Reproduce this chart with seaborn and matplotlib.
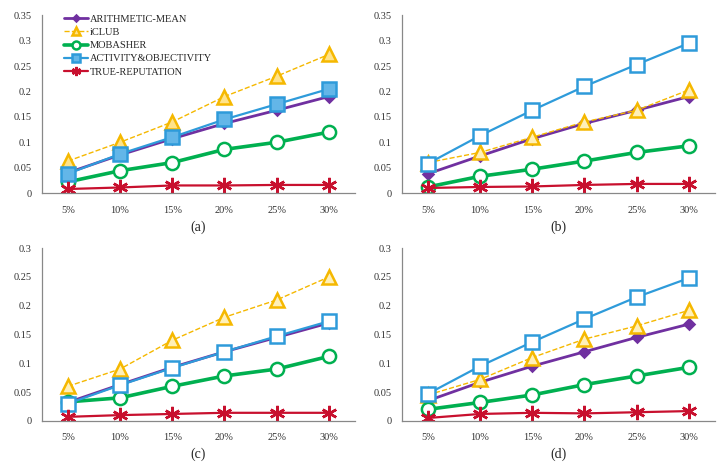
import matplotlib
matplotlib.use('Agg')
import matplotlib.pyplot as plt
import numpy as np
import seaborn as sns

sns.set_style('white')
plt.rcParams['font.family'] = ['Liberation Serif', 'DejaVu Serif']

# data
pct = ['5%', '10%', '15%', '20%', '25%', '30%']
methods = ['ARITHMETIC-MEAN', 'iCLUB', 'MOBASHER', 'ACTIVITY&OBJECTIVITY', 'TRUE-REPUTATION']

a_mean = [0.040, 0.075, 0.107, 0.137, 0.163, 0.190]
a_iclub = [0.063, 0.100, 0.140, 0.190, 0.230, 0.273]
a_mob = [0.022, 0.044, 0.060, 0.086, 0.100, 0.120]
a_ao = [0.038, 0.077, 0.110, 0.145, 0.175, 0.205]
a_true = [0.008, 0.011, 0.015, 0.015, 0.016, 0.016]

b_mean = [0.038, 0.073, 0.107, 0.137, 0.163, 0.190]
b_iclub = [0.060, 0.080, 0.110, 0.140, 0.163, 0.203]
b_mob = [0.012, 0.033, 0.047, 0.063, 0.080, 0.093]
b_ao = [0.058, 0.113, 0.163, 0.210, 0.253, 0.295]
b_true = [0.010, 0.012, 0.013, 0.016, 0.018, 0.018]

c_mean = [0.032, 0.063, 0.093, 0.120, 0.145, 0.170]
c_iclub = [0.060, 0.090, 0.140, 0.180, 0.210, 0.250]
c_mob = [0.033, 0.040, 0.060, 0.078, 0.090, 0.112]
c_ao = [0.030, 0.062, 0.092, 0.120, 0.147, 0.173]
c_true = [0.007, 0.010, 0.012, 0.014, 0.014, 0.014]

d_mean = [0.035, 0.067, 0.095, 0.120, 0.145, 0.168]
d_iclub = [0.045, 0.072, 0.110, 0.142, 0.165, 0.192]
d_mob = [0.020, 0.032, 0.045, 0.063, 0.078, 0.093]
d_ao = [0.047, 0.095, 0.137, 0.177, 0.215, 0.248]
d_true = [0.005, 0.012, 0.014, 0.013, 0.015, 0.017]

panels = [
    ('(a)', [a_mean, a_iclub, a_mob, a_ao, a_true], 0.35, True),
    ('(b)', [b_mean, b_iclub, b_mob, b_ao, b_true], 0.35, False),
    ('(c)', [c_mean, c_iclub, c_mob, c_ao, c_true], 0.30, False),
    ('(d)', [d_mean, d_iclub, d_mob, d_ao, d_true], 0.30, False),
]

colors = ['#7030A0', '#F5B800', '#00B050', '#2E9BDA', '#C8102E']
markers = ['D', '^', 'o', 's', (6, 2, 0)]
msizes = [5, 10, 9.5, 9.5, 11]
lws = [2.0, 1.0, 2.6, 1.6, 1.6]
lstyles = ['-', '--', '-', '-', '-']
fill_a = ['#7030A0', '#FFE38A', 'white', '#63B6E8', '#C8102E']
fill_other = ['#7030A0', '#FFF0B8', 'white', 'white', '#C8102E']

fig = plt.figure(figsize=(7.2, 4.63), dpi=100)
boxes = [
    [0.058, 0.583, 0.435, 0.384],
    [0.558, 0.583, 0.435, 0.384],
    [0.058, 0.091, 0.435, 0.373],
    [0.558, 0.091, 0.435, 0.373],
]

for (cap, series, ytop, filled), box in zip(panels, boxes):
    ax = fig.add_axes(box)
    faces = fill_a if filled else fill_other
    for i, vals in enumerate(series):
        sns.lineplot(x=pct, y=vals, ax=ax, color=colors[i], marker=markers[i],
                     markersize=msizes[i], linewidth=lws[i], linestyle=lstyles[i],
                     markerfacecolor=faces[i], markeredgecolor=colors[i],
                     markeredgewidth=1.8, label=methods[i] if filled else None,
                     legend=False)
    ax.set_xlim(-0.5, 5.5)
    ax.set_ylim(0, ytop)
    yt = np.arange(0, ytop + 0.001, 0.05)
    ax.set_yticks(yt)
    ax.set_yticklabels(['0' if v == 0 else f'{v:g}' for v in yt])
    ax.set_xticks(range(len(pct)))
    ax.set_xticklabels(pct)
    ax.set_xticks(np.arange(-0.5, 6, 1), minor=True)
    ax.tick_params(axis='x', which='major', length=0, labelsize=7.5, pad=9, colors='#333333')
    ax.tick_params(axis='x', which='minor', length=4, color='#888888', direction='out')
    ax.tick_params(axis='y', length=4, direction='out', labelsize=7.5, colors='#333333')
    ax.tick_params(axis='y', color='#888888')
    for s in ['top', 'right']:
        ax.spines[s].set_visible(False)
    for s in ['left', 'bottom']:
        ax.spines[s].set_color('#888888')
        ax.spines[s].set_linewidth(0.9)
    ax.set_xlabel(cap, fontsize=10, labelpad=4)
    ax.set_ylabel('')
    if filled:
        ax.legend(loc='upper left', bbox_to_anchor=(0.05, 1.04), frameon=False,
                  fontsize=7.5, handlelength=2.3, handletextpad=0.2,
                  labelspacing=0.38, markerscale=0.6, borderaxespad=0.2)

fig.savefig('out.png', dpi=100)
